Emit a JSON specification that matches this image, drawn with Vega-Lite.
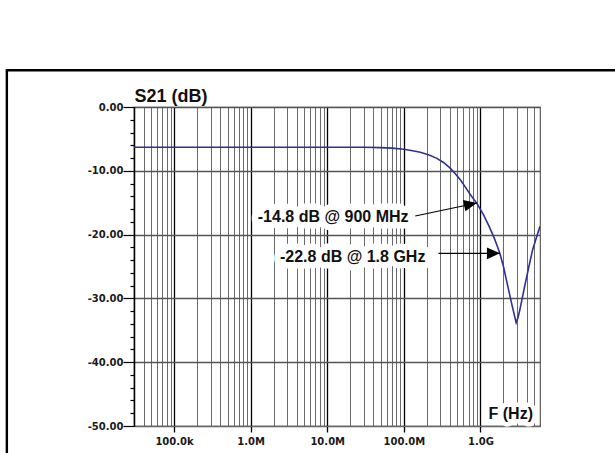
{
  "$schema": "https://vega.github.io/schema/vega-lite/v6.json",
  "width": 406,
  "height": 319,
  "autosize": {"type": "none"},
  "padding": {"left": 134, "top": 107, "right": 75, "bottom": 27},
  "background": "white",
  "config": {
    "view": {"stroke": "#666666", "strokeWidth": 1.2},
    "axis": {"labelFont": "DejaVu Sans", "labelFontWeight": "bold", "labelFontSize": 10, "labelColor": "#1a1a1a"}
  },
  "datasets": {
    "curve": [
      {"f": 30000, "db": -6.3},
      {"f": 1000000, "db": -6.3},
      {"f": 10000000, "db": -6.3},
      {"f": 30000000, "db": -6.31},
      {"f": 50000000, "db": -6.37},
      {"f": 70000000, "db": -6.45},
      {"f": 100000000, "db": -6.62},
      {"f": 130000000, "db": -6.85},
      {"f": 164000000, "db": -7.1},
      {"f": 210000000, "db": -7.5},
      {"f": 270000000, "db": -8.05},
      {"f": 330000000, "db": -8.7},
      {"f": 400000000, "db": -9.55},
      {"f": 470000000, "db": -10.45},
      {"f": 550000000, "db": -11.45},
      {"f": 640000000, "db": -12.6},
      {"f": 740000000, "db": -13.75},
      {"f": 900000000, "db": -15.1},
      {"f": 1100000000, "db": -16.9},
      {"f": 1300000000, "db": -18.7},
      {"f": 1500000000, "db": -20.4},
      {"f": 1650000000, "db": -21.7},
      {"f": 1800000000, "db": -23.0},
      {"f": 2000000000, "db": -25.0},
      {"f": 2220000000, "db": -27.5},
      {"f": 2450000000, "db": -29.8},
      {"f": 2650000000, "db": -31.6},
      {"f": 2930000000, "db": -33.8},
      {"f": 3100000000, "db": -33.0},
      {"f": 3300000000, "db": -31.6},
      {"f": 3800000000, "db": -28.0},
      {"f": 4300000000, "db": -25.0},
      {"f": 4800000000, "db": -22.4},
      {"f": 5400000000, "db": -20.4},
      {"f": 6000000000, "db": -18.7}
    ],
    "notes": [
      {"id": 1, "label": "-14.8 dB @ 900 MHz", "label_f": 11950000, "label_db": -17.98, "from_f": 141000000, "from_db": -17.08, "to_f": 900000000, "to_db": -15.05},
      {"id": 2, "label": "-22.8 dB @ 1.8 GHz", "label_f": 21490000, "label_db": -24.25, "from_f": 284000000, "from_db": -22.93, "to_f": 1800000000, "to_db": -22.93}
    ]
  },
  "layer": [
    {
      "data": {"name": "curve"},
      "mark": {"type": "line", "color": "#2e3192", "strokeWidth": 1.6, "clip": true},
      "encoding": {
        "x": {
          "field": "f", "type": "quantitative",
          "scale": {"type": "log", "domain": [30000, 6000000000], "nice": false},
          "axis": {
            "title": null,
            "tickCount": 200,
            "values": [30000, 40000, 50000, 60000, 70000, 80000, 90000,
                       100000, 200000, 300000, 400000, 500000, 600000, 700000, 800000, 900000,
                       1000000, 2000000, 3000000, 4000000, 5000000, 6000000, 7000000, 8000000, 9000000,
                       10000000, 20000000, 30000000, 40000000, 50000000, 60000000, 70000000, 80000000, 90000000,
                       100000000, 200000000, 300000000, 400000000, 500000000, 600000000, 700000000, 800000000, 900000000,
                       1000000000, 2000000000, 3000000000, 4000000000, 5000000000, 6000000000],
            "labelExpr": "datum.value == 100000 ? '100.0k' : datum.value == 1000000 ? '1.0M' : datum.value == 10000000 ? '10.0M' : datum.value == 100000000 ? '100.0M' : datum.value == 1000000000 ? '1.0G' : ''",
            "labelOverlap": false,
            "labelFlush": false,
            "labelPadding": 4,
            "grid": true,
            "gridColor": {"condition": {"test": "datum.value == 100000 || datum.value == 1000000 || datum.value == 10000000 || datum.value == 100000000 || datum.value == 1000000000", "value": "#000000"}, "value": "#6a6a6a"},
            "gridWidth": {"condition": {"test": "datum.value == 100000 || datum.value == 1000000 || datum.value == 10000000 || datum.value == 100000000 || datum.value == 1000000000", "value": 1.3}, "value": 1},
            "tickColor": "#000000",
            "tickSize": 6,
            "tickWidth": 1.3,
            "tickOpacity": {"condition": {"test": "datum.value == 100000 || datum.value == 1000000 || datum.value == 10000000 || datum.value == 100000000 || datum.value == 1000000000", "value": 1}, "value": 0},
            "domainColor": "#666666",
            "domainWidth": 1.2
          }
        },
        "y": {
          "field": "db", "type": "quantitative",
          "scale": {"domain": [-50, 0], "nice": false, "zero": false},
          "axis": {
            "title": "S21 (dB)",
            "titleFont": "Liberation Sans",
            "titleFontSize": 18,
            "titleFontWeight": "bold",
            "titleColor": "#111111",
            "titleAngle": 0,
            "titleAlign": "left",
            "titleBaseline": "alphabetic",
            "titleX": 0,
            "titleY": -6,
            "tickCount": 200,
            "values": [-50, -48, -46, -44, -42, -40, -38, -36, -34, -32, -30, -28, -26, -24, -22, -20, -18, -16, -14, -12, -10, -8, -6, -4, -2, 0],
            "labelExpr": "abs(datum.value / 10 - round(datum.value / 10)) < 0.01 ? (abs(datum.value) < 0.01 ? '0.00' : '-' + format(abs(round(datum.value)), '.2f')) : ''",
            "labelOverlap": false,
            "labelFlush": false,
            "labelPadding": 0,
            "grid": true,
            "gridColor": "#555555",
            "gridWidth": 1.3,
            "gridOpacity": {"condition": {"test": "abs(datum.value / 10 - round(datum.value / 10)) < 0.01", "value": 1}, "value": 0},
            "tickColor": "#000000",
            "tickWidth": 1.2,
            "tickSize": {"condition": {"test": "abs(datum.value / 10 - round(datum.value / 10)) < 0.01", "value": 11}, "value": 4},
            "domainColor": "#000000",
            "domainWidth": 1.5
          }
        }
      }
    },
    {
      "data": {"values": [{"frame": 1}]},
      "mark": {"type": "rect", "filled": false, "stroke": "#000000", "strokeWidth": 2.4, "clip": false},
      "encoding": {
        "x": {"datum": 656, "type": "quantitative"},
        "x2": {"datum": 1000000000000},
        "y": {"datum": 5.76, "type": "quantitative"},
        "y2": {"datum": -100}
      }
    },
    {
      "data": {"name": "notes"},
      "mark": {"type": "rule", "color": "#000000", "strokeWidth": 1.2},
      "encoding": {
        "x": {"field": "from_f", "type": "quantitative"},
        "x2": {"field": "to_f"},
        "y": {"field": "from_db", "type": "quantitative"},
        "y2": {"field": "to_db"}
      }
    },
    {
      "data": {"name": "notes"},
      "transform": [{"filter": "datum.id == 1"}],
      "mark": {"type": "point", "shape": "M0,0L-1,-0.45L-1,0.45Z", "filled": true, "color": "#000000", "opacity": 1, "size": 676, "angle": 348.4},
      "encoding": {
        "x": {"field": "to_f", "type": "quantitative"},
        "y": {"field": "to_db", "type": "quantitative"}
      }
    },
    {
      "data": {"name": "notes"},
      "transform": [{"filter": "datum.id == 2"}],
      "mark": {"type": "point", "shape": "M0,0L-1,-0.45L-1,0.45Z", "filled": true, "color": "#000000", "opacity": 1, "size": 676, "angle": 0},
      "encoding": {
        "x": {"field": "to_f", "type": "quantitative"},
        "y": {"field": "to_db", "type": "quantitative"}
      }
    },
    {
      "data": {"name": "notes"},
      "mark": {"type": "text", "font": "Liberation Sans", "fontWeight": "bold", "fontSize": 16, "align": "center", "baseline": "alphabetic", "fill": "white", "stroke": "white", "strokeWidth": 13, "strokeJoin": "round"},
      "encoding": {
        "x": {"field": "label_f", "type": "quantitative"},
        "y": {"field": "label_db", "type": "quantitative"},
        "text": {"field": "label"}
      }
    },
    {
      "data": {"name": "notes"},
      "mark": {"type": "text", "font": "Liberation Sans", "fontWeight": "bold", "fontSize": 16, "align": "center", "baseline": "alphabetic", "color": "#111111"},
      "encoding": {
        "x": {"field": "label_f", "type": "quantitative"},
        "y": {"field": "label_db", "type": "quantitative"},
        "text": {"field": "label"}
      }
    },
    {
      "data": {"values": [{"label": "F (Hz)"}]},
      "mark": {"type": "text", "font": "Liberation Sans", "fontWeight": "bold", "fontSize": 16, "align": "right", "baseline": "alphabetic", "dx": -7, "dy": -7, "fill": "white", "stroke": "white", "strokeWidth": 9, "strokeJoin": "round"},
      "encoding": {
        "x": {"datum": 6000000000, "type": "quantitative"},
        "y": {"datum": -50, "type": "quantitative"},
        "text": {"field": "label"}
      }
    },
    {
      "data": {"values": [{"label": "F (Hz)"}]},
      "mark": {"type": "text", "font": "Liberation Sans", "fontWeight": "bold", "fontSize": 16, "align": "right", "baseline": "alphabetic", "dx": -7, "dy": -7, "color": "#111111"},
      "encoding": {
        "x": {"datum": 6000000000, "type": "quantitative"},
        "y": {"datum": -50, "type": "quantitative"},
        "text": {"field": "label"}
      }
    }
  ]
}
